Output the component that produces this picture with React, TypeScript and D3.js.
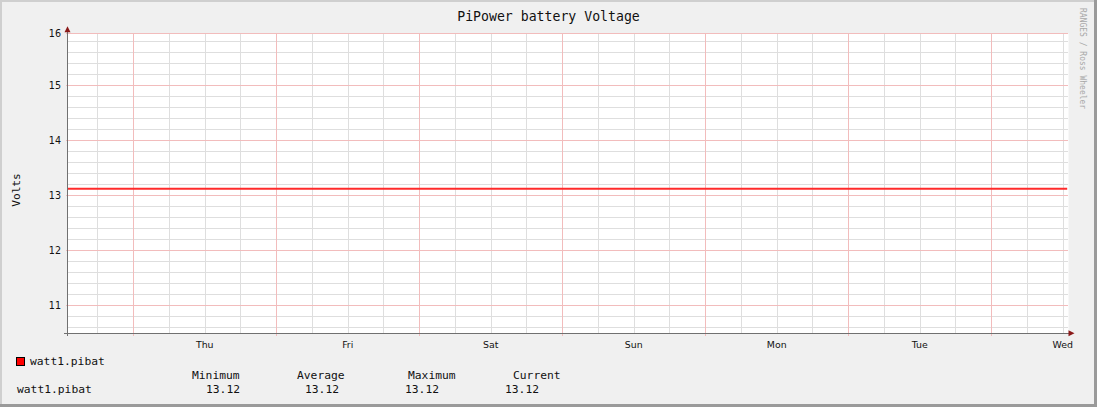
import React, { useEffect, useRef } from 'react';
import * as d3 from 'd3';

// Sample times (local) and battery voltage readings
const sampleTimes = [
  '2020-01-01T13:00',
  '2020-01-02T00:00',
  '2020-01-03T00:00',
  '2020-01-04T00:00',
  '2020-01-05T00:00',
  '2020-01-06T00:00',
  '2020-01-07T00:00',
  '2020-01-08T00:00',
  '2020-01-08T12:45',
];
const voltages = [13.12, 13.12, 13.12, 13.12, 13.12, 13.12, 13.12, 13.12, 13.12];

const seriesName = 'watt1.pibat';
const dayLabels = ['Thu', 'Fri', 'Sat', 'Sun', 'Mon', 'Tue', 'Wed'];
const yTickLabels = [11, 12, 13, 14, 15, 16];
const statHeaders = ['Minimum', 'Average', 'Maximum', 'Current'];

const WIDTH = 1097;
const HEIGHT = 407;
const MONO = '"DejaVu Sans Mono", monospace';
const SANS = '"DejaVu Sans", sans-serif';

const App: React.FC = () => {
  const svgRef = useRef<SVGSVGElement>(null);

  useEffect(() => {
    if (!svgRef.current) return;
    const svg = d3.select(svgRef.current);
    svg.selectAll('*').remove();

    const plot = { left: 67.5, right: 1067.5, top: 33.3, bottom: 333.3 };

    const parse = d3.timeParse('%Y-%m-%dT%H:%M');
    const data = sampleTimes.map((t, i) => ({ date: parse(t) as Date, value: voltages[i] }));

    const start = new Date(2020, 0, 1, 12, 58);
    const end = new Date(2020, 0, 8, 12, 48);

    const x = d3.scaleTime().domain([start, end]).range([plot.left, plot.right]);
    const y = d3.scaleLinear().domain([10.49, 15.945]).range([plot.bottom, plot.top]).clamp(true);

    // Background + frame
    svg.append('rect').attr('width', WIDTH).attr('height', HEIGHT).attr('fill', '#f0f0f0');
    svg.append('path').attr('d', `M1,${HEIGHT} V1 H${WIDTH}`).attr('fill', 'none')
      .attr('stroke', '#cfcfcf').attr('stroke-width', 2);
    svg.append('path').attr('d', `M0,${HEIGHT - 1.5} H${WIDTH - 1.5} V0`).attr('fill', 'none')
      .attr('stroke', '#9a9a9a').attr('stroke-width', 3);

    // Plot canvas
    svg.append('rect')
      .attr('x', plot.left).attr('y', plot.top)
      .attr('width', plot.right - plot.left + 1).attr('height', plot.bottom - plot.top)
      .attr('fill', '#ffffff');

    const grid = svg.append('g').attr('shape-rendering', 'crispEdges');

    // Minor horizontal grid (0.2 V)
    const minorY = y.ticks(30).filter(v => Math.abs(v - Math.round(v)) > 1e-6);
    grid.selectAll('.hminor').data(minorY).enter().append('line')
      .attr('x1', plot.left).attr('x2', plot.right)
      .attr('y1', d => Math.round(y(d)) + 0.5).attr('y2', d => Math.round(y(d)) + 0.5)
      .attr('stroke', '#dedede').attr('stroke-width', 1);

    // Minor vertical grid (6 h)
    const minorX = d3.timeHour.every(6)!.range(start, end).filter(d => d.getHours() !== 0);
    grid.selectAll('.vminor').data(minorX).enter().append('line')
      .attr('x1', d => Math.round(x(d)) + 0.5).attr('x2', d => Math.round(x(d)) + 0.5)
      .attr('y1', plot.top).attr('y2', plot.bottom)
      .attr('stroke', '#dedede').attr('stroke-width', 1);

    // Major horizontal grid
    grid.selectAll('.hmajor').data(yTickLabels).enter().append('line')
      .attr('x1', plot.left - 2).attr('x2', plot.right)
      .attr('y1', d => Math.round(y(d)) + 0.5).attr('y2', d => Math.round(y(d)) + 0.5)
      .attr('stroke', '#f2bcbc').attr('stroke-width', 1);

    // Major vertical grid (midnight)
    const days = d3.timeDay.range(start, end);
    grid.selectAll('.vmajor').data(days).enter().append('line')
      .attr('x1', d => Math.round(x(d)) + 0.5).attr('x2', d => Math.round(x(d)) + 0.5)
      .attr('y1', plot.top).attr('y2', plot.bottom + 3)
      .attr('stroke', '#f2bcbc').attr('stroke-width', 1);

    // Data line
    const line = d3.line<{ date: Date; value: number }>()
      .x(d => x(d.date))
      .y(d => y(d.value));
    svg.append('path').datum(data)
      .attr('fill', 'none').attr('stroke', '#ff2a2a').attr('stroke-width', 2)
      .attr('d', line);

    // Axes
    const axis = svg.append('g').attr('shape-rendering', 'crispEdges');
    axis.append('line')
      .attr('x1', plot.left).attr('x2', plot.left)
      .attr('y1', plot.top - 3).attr('y2', plot.bottom + 3)
      .attr('stroke', '#707070');
    axis.append('line')
      .attr('x1', plot.left - 4).attr('x2', plot.right + 1)
      .attr('y1', plot.bottom).attr('y2', plot.bottom)
      .attr('stroke', '#707070');
    svg.append('path')
      .attr('d', `M${plot.left - 3},${plot.top - 1} L${plot.left},${plot.top - 7} L${plot.left + 3},${plot.top - 1} Z`)
      .attr('fill', '#8b1a1a');
    svg.append('path')
      .attr('d', `M${plot.right + 1},${plot.bottom - 3} L${plot.right + 7},${plot.bottom} L${plot.right + 1},${plot.bottom + 3} Z`)
      .attr('fill', '#8b1a1a');

    // Y tick labels
    svg.selectAll('.ylab').data(yTickLabels).enter().append('text')
      .attr('x', 61).attr('y', d => y(d) + 3.6)
      .attr('text-anchor', 'end')
      .style('font-family', SANS).style('font-size', '9.6px').attr('fill', '#111')
      .text(d => String(d));

    // X tick labels at noon
    svg.selectAll('.xlab').data(days).enter().append('text')
      .attr('x', d => x(d3.timeHour.offset(d, 12)))
      .attr('y', 347.5)
      .attr('text-anchor', 'middle')
      .style('font-family', SANS).style('font-size', '9.4px').attr('fill', '#111')
      .text((d, i) => dayLabels[i]);

    // Title
    svg.append('text')
      .attr('x', 548.5).attr('y', 21)
      .attr('text-anchor', 'middle')
      .style('font-family', MONO).style('font-size', '13.2px').attr('fill', '#111')
      .text('PiPower battery Voltage');

    // Vertical axis label
    svg.append('text')
      .attr('transform', 'translate(20,190) rotate(-90)')
      .attr('text-anchor', 'middle')
      .style('font-family', MONO).style('font-size', '11.2px').attr('fill', '#111')
      .text('Volts');

    // Watermark
    svg.append('text')
      .attr('transform', 'translate(1080,8) rotate(90)')
      .attr('text-anchor', 'start')
      .style('font-family', MONO).style('font-size', '8px').attr('fill', '#a8a8a8')
      .text('RANGES / Ross Wheeler');

    // Legend
    svg.append('rect')
      .attr('x', 16.5).attr('y', 357.5).attr('width', 8).attr('height', 8)
      .attr('fill', '#ff0000').attr('stroke', '#000').attr('stroke-width', 1);
    svg.append('text')
      .attr('x', 30).attr('y', 365)
      .style('font-family', MONO).style('font-size', '11.3px').attr('fill', '#111')
      .text(seriesName);

    const stats = [
      d3.min(voltages) as number,
      d3.mean(voltages) as number,
      d3.max(voltages) as number,
      voltages[voltages.length - 1],
    ];
    const headerX = [192, 297, 408, 513];
    const valueX = [206, 305, 405, 505];
    const fmt = d3.format('.2f');

    svg.selectAll('.shead').data(statHeaders).enter().append('text')
      .attr('x', (d, i) => headerX[i]).attr('y', 379.3)
      .style('font-family', MONO).style('font-size', '11.3px').attr('fill', '#111')
      .text(d => d);

    svg.append('text')
      .attr('x', 17).attr('y', 392.5)
      .style('font-family', MONO).style('font-size', '11.3px').attr('fill', '#111')
      .text(seriesName);

    svg.selectAll('.sval').data(stats).enter().append('text')
      .attr('x', (d, i) => valueX[i]).attr('y', 392.5)
      .style('font-family', MONO).style('font-size', '11.3px').attr('fill', '#111')
      .text(d => fmt(d));
  }, []);

  return (
    <svg
      ref={svgRef}
      width={WIDTH}
      height={HEIGHT}
      style={{ position: 'absolute', left: 0, top: 0, display: 'block' }}
    />
  );
};

export default App;
